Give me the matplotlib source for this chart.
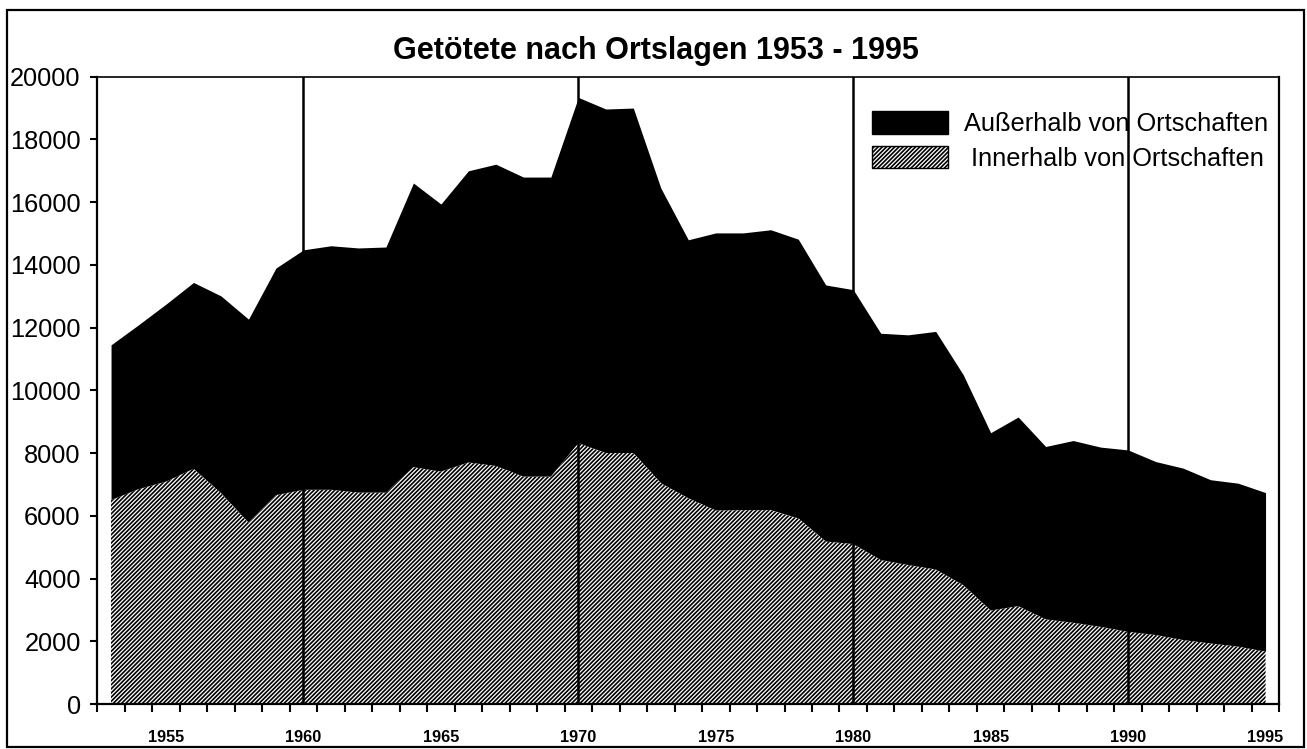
import matplotlib
matplotlib.use("Agg")
import matplotlib.pyplot as plt
from matplotlib.patches import Rectangle
import numpy as np

plt.rcParams['font.family'] = ['Liberation Sans', 'DejaVu Sans']
plt.rcParams['hatch.linewidth'] = 1.2

years = list(range(1953, 1996))

# Getötete insgesamt (Oberkante der schwarzen Fläche)
total = [11450, 12090, 12750, 13440, 13010, 12270, 13900, 14480, 14610, 14540,
         14570, 16610, 15940, 17000, 17210, 16800, 16800, 19340, 18970, 19000,
         16450, 14800, 15020, 15020, 15120, 14820, 13360, 13210, 11820, 11770,
         11880, 10500, 8650, 9150, 8210, 8400, 8190, 8100, 7730, 7520,
         7150, 7040, 6740]

# Getötete innerhalb von Ortschaften
inner = [6500, 6850, 7090, 7500, 6720, 5780, 6660, 6830, 6830, 6740,
         6740, 7550, 7410, 7700, 7590, 7250, 7250, 8320, 8000, 8000,
         7040, 6560, 6170, 6180, 6180, 5920, 5180, 5100, 4590, 4430,
         4290, 3790, 2980, 3120, 2700, 2590, 2460, 2300, 2200, 2040,
         1930, 1830, 1670]

decades = [1960, 1970, 1980, 1990]
label_years = [1955, 1960, 1965, 1970, 1975, 1980, 1985, 1990, 1995]
labels = ["Außerhalb von Ortschaften", " Innerhalb von Ortschaften"]

fig = plt.figure(figsize=(13.07, 7.49), dpi=100)
ax = fig.add_axes([97.3 / 1307, 45 / 749, 1182 / 1307, 627.3 / 749])

outer_area = ax.fill_between(years, inner, total, color='black', lw=0, zorder=2)
inner_area = ax.fill_between(years, 0, inner, facecolor='white', edgecolor='black',
                             hatch='////////', lw=0, zorder=2)

for d in decades:
    ax.axvline(d, color='black', lw=1.8, zorder=4)

ax.set_xlim(1952.5, 1995.5)
ax.set_ylim(0, 20000)
ax.set_yticks(np.arange(0, 20001, 2000))
ax.set_xticks(label_years)
ax.set_xticks(np.arange(1952.5, 1996, 1.0), minor=True)
ax.tick_params(axis='x', which='major', length=0, pad=19, labelsize=11.7)
ax.tick_params(axis='x', which='minor', length=6, width=1.5, direction='out')
ax.tick_params(axis='y', length=5, width=1.5, direction='out', pad=7, labelsize=18.3)
for lab in ax.get_xticklabels():
    lab.set_fontweight('bold')

for side in ['left', 'bottom', 'right']:
    ax.spines[side].set_linewidth(1.6)
ax.spines['top'].set_linewidth(1.2)

ax.set_title("Getötete nach Ortslagen 1953 - 1995", fontsize=22, fontweight='bold',
             pad=13, x=0.4727)

leg = ax.legend([outer_area, inner_area], labels, loc='upper left',
                bbox_to_anchor=(872 / 1307, (749 - 111) / 749), bbox_transform=fig.transFigure,
                frameon=False, fontsize=18.3, handlelength=3.0, handleheight=1.0,
                handletextpad=0.6, labelspacing=0.38, borderpad=0, borderaxespad=0)
leg.set_zorder(3)
for h in leg.legend_handles:
    h.set_edgecolor('black')
    h.set_linewidth(1.0)

fig.patches.append(Rectangle((7 / 1307, 2 / 749), 1297 / 1307, 737 / 749,
                             transform=fig.transFigure, fill=False, lw=1.6,
                             edgecolor='black'))

fig.savefig("out.png", dpi=100)
